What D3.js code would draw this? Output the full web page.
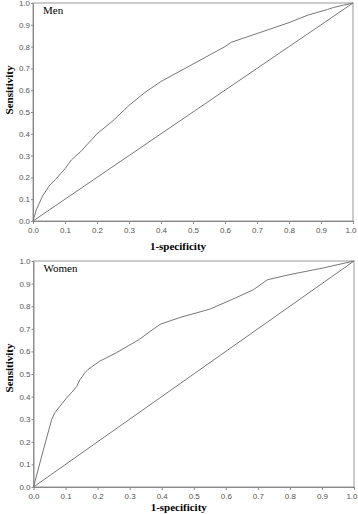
<!DOCTYPE html>
<html>
<head>
<meta charset="utf-8">
<script src="https://cdn.jsdelivr.net/npm/d3@7"></script>
<style>
  body { margin: 0; background: #fff; }
  .axis text { font-family: "Liberation Sans", Arial, sans-serif; font-size: 8px; fill: #555; }
  .axis path, .axis line { stroke: #888; }
  .title { font-family: "Liberation Serif", "Times New Roman", serif; font-weight: bold; font-size: 11px; fill: #000; }
  .label { font-family: "Liberation Serif", "Times New Roman", serif; font-size: 11px; fill: #000; }
</style>
</head>
<body>
<script>
// ROC curve for men
var menX = [0, 0.01, 0.03, 0.05, 0.07, 0.1, 0.12, 0.15, 0.2, 0.25, 0.3, 0.35, 0.4, 0.45, 0.5, 0.55, 0.6, 0.62, 0.7, 0.8, 0.86, 0.92, 0.94, 0.97, 1];
var menY = [0, 0.05, 0.115, 0.16, 0.19, 0.24, 0.28, 0.32, 0.40, 0.46, 0.53, 0.59, 0.64, 0.68, 0.72, 0.76, 0.80, 0.82, 0.86, 0.91, 0.945, 0.97, 0.98, 0.99, 1];
// ROC curve for women
var womenX = [0, 0.03, 0.057, 0.067, 0.098, 0.12, 0.135, 0.145, 0.153, 0.16, 0.17, 0.207, 0.26, 0.33, 0.395, 0.457, 0.55, 0.62, 0.685, 0.73, 0.8, 0.9, 1];
var womenY = [0, 0.16, 0.30, 0.33, 0.385, 0.42, 0.445, 0.475, 0.49, 0.505, 0.52, 0.557, 0.595, 0.653, 0.72, 0.75, 0.787, 0.83, 0.872, 0.917, 0.94, 0.968, 1];
// reference line
var diagX = [0, 1];
var diagY = [0, 1];
var tickValues = [0, 0.1, 0.2, 0.3, 0.4, 0.5, 0.6, 0.7, 0.8, 0.9, 1.0];

var svg = d3.select("body").append("svg")
    .attr("width", 358)
    .attr("height", 514);

function panel(name, xs, ys, left, top, width, height, titleY, sensY) {
  var g = svg.append("g")
      .attr("transform", "translate(" + left + "," + top + ")");

  var x = d3.scaleLinear().domain([0, 1]).range([0, width]);
  var y = d3.scaleLinear().domain([0, 1]).range([height, 0]);

  // frame
  g.append("rect")
      .attr("x", 0).attr("y", 0)
      .attr("width", width).attr("height", height)
      .attr("fill", "none")
      .attr("stroke", "#999");

  var xAxis = g.append("g")
      .attr("class", "axis")
      .attr("transform", "translate(0," + height + ")")
      .call(d3.axisBottom(x).tickValues(tickValues).tickFormat(d3.format(".1f")).tickSize(3).tickSizeOuter(0).tickPadding(3));

  // keep the last label inside the page
  xAxis.selectAll(".tick:last-of-type text")
      .attr("text-anchor", "end")
      .attr("x", 3);

  g.append("g")
      .attr("class", "axis")
      .call(d3.axisLeft(y).tickValues(tickValues).tickFormat(d3.format(".1f")).tickSize(2).tickSizeOuter(0).tickPadding(1));

  var line = d3.line()
      .x(function(d) { return x(d[0]); })
      .y(function(d) { return y(d[1]); });

  g.append("path")
      .datum(diagX.map(function(v, i) { return [v, diagY[i]]; }))
      .attr("d", line)
      .attr("fill", "none")
      .attr("stroke", "#777")
      .attr("stroke-width", 1);

  g.append("path")
      .datum(xs.map(function(v, i) { return [v, ys[i]]; }))
      .attr("d", line)
      .attr("fill", "none")
      .attr("stroke", "#777")
      .attr("stroke-width", 1);

  g.append("text")
      .attr("class", "label")
      .attr("x", 10)
      .attr("y", 11)
      .text(name);

  svg.append("text")
      .attr("class", "title")
      .attr("text-anchor", "middle")
      .attr("x", left + width / 2 - 15)
      .attr("y", titleY)
      .text("1-specificity");

  svg.append("text")
      .attr("class", "title")
      .attr("text-anchor", "middle")
      .attr("transform", "translate(13," + sensY + ") rotate(-90)")
      .text("Sensitivity");
}

panel("Men", menX, menY, 33, 3, 320, 218, 250, 90);
panel("Women", womenX, womenY, 33.5, 261, 320.5, 226, 511, 368);
</script>
</body>
</html>
